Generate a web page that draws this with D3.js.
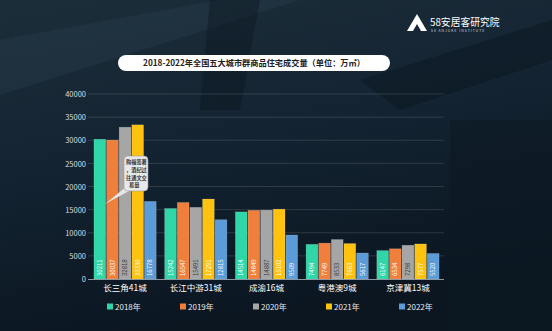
<!DOCTYPE html>
<html><head><meta charset="utf-8">
<script src="https://cdn.jsdelivr.net/npm/d3@7"></script>
<style>html,body{margin:0;padding:0;background:#0f1c27;}svg{display:block;}</style>
</head><body>
<svg id="c" width="552" height="331"></svg>
<script>
const categories = ["长三角41城","长江中游31城","成渝16城","粤港澳9城","京津冀13城"];
const years = ["2018年","2019年","2020年","2021年","2022年"];
const v2018 = [30211,15242,14514,7494,6147];
const v2019 = [30037,16547,14849,7749,6534];
const v2020 = [32818,15491,14887,8533,7298];
const v2021 = [33330,17291,15102,7663,7577];
const v2022 = [16778,12815,9509,5617,5520];
const series = [v2018,v2019,v2020,v2021,v2022];
const yTicks = [0,5000,10000,15000,20000,25000,30000,35000,40000];
const colors = ["#2fd6a7","#f07f3c","#a6a6a6","#ffc20e","#5b9bd8"];
const labelColors = ["#ffffff","#ffffff","#3a3a3a","#ffffff","#ffffff"];

const svg = d3.select("#c");
const W=552,H=331;
const font = "'Noto Sans CJK SC','Noto Sans',sans-serif";

// background
const defs = svg.append("defs");
const bg = defs.append("linearGradient").attr("id","bg").attr("x1",0).attr("y1",0).attr("x2",0.3).attr("y2",1);
bg.append("stop").attr("offset",0).attr("stop-color","#1d2e3b");
bg.append("stop").attr("offset",0.5).attr("stop-color","#132331");
bg.append("stop").attr("offset",1).attr("stop-color","#0b1621");
svg.append("rect").attr("width",W).attr("height",H).attr("fill","url(#bg)");
// subtle streaks
svg.append("polygon").attr("points","0,40 220,0 300,0 0,95").attr("fill","#2c3e4c").attr("opacity",0.35);
svg.append("polygon").attr("points","360,80 552,20 552,60 400,110").attr("fill","#07111a").attr("opacity",0.35);
svg.append("polygon").attr("points","210,0 260,0 240,110 200,110").attr("fill","#0a141d").attr("opacity",0.4);
svg.append("rect").attr("x",450).attr("y",120).attr("width",102).attr("height",211).attr("fill","#0c1822").attr("opacity",0.5);

// logo
const lg = svg.append("g");
lg.append("path").attr("d","M417,14 L427,31 L407,31 Z").attr("fill","#ffffff");
lg.append("path").attr("d","M417,24 L421,31 L413,31 Z").attr("fill","#16263a");
lg.append("text").attr("x",430).attr("y",25.5).attr("fill","#fff").attr("font-family",font)
  .attr("font-size",9.8).text("58安居客研究院");
lg.append("text").attr("x",431).attr("y",32).attr("fill","#d8dde2").attr("font-family",font)
  .attr("font-size",3.4).attr("letter-spacing",1.0).text("58 ANJUKE  INSTITUTE");

// title pill
svg.append("rect").attr("x",118).attr("y",55).attr("width",272).attr("height",16).attr("rx",8)
  .attr("fill","#ffffff");
svg.append("text").attr("x",254).attr("y",66.3).attr("text-anchor","middle").attr("font-family",font)
  .attr("font-size",8.2).attr("font-weight","bold").attr("fill","#222")
  .text("2018-2022年全国五大城市群商品住宅成交量（单位：万㎡）");

// scales
const y = d3.scaleLinear().domain([0,40000]).range([279,94]);
const x0 = d3.scaleBand().domain(categories).range([89,444]).paddingInner(0.12).paddingOuter(0.07);
const x1 = d3.scaleBand().domain(d3.range(5)).range([0,x0.bandwidth()]).paddingInner(0.07);

// grid
svg.append("g").selectAll("line").data(yTicks.filter(d=>d>0)).join("line")
  .attr("x1",88).attr("x2",444).attr("y1",d=>y(d)).attr("y2",d=>y(d))
  .attr("stroke","#ffffff").attr("stroke-opacity",0.13).attr("stroke-width",1);

// y axis labels
const yAxis = d3.axisLeft(y).tickValues(yTicks).tickSize(0).tickPadding(0).tickFormat(d3.format("d"));
const ya = svg.append("g").attr("transform","translate(86,0)").call(yAxis);
ya.select(".domain").remove();
ya.selectAll("text").attr("fill","#d6dbe0").attr("font-family",font).attr("font-size",7.5).attr("dy","0.35em");

// bars
const groups = svg.append("g").selectAll("g").data(categories).join("g")
  .attr("transform",d=>`translate(${x0(d)},0)`);
groups.each(function(cat,ci){
  const g = d3.select(this);
  series.forEach((s,si)=>{
    const v = s[ci];
    g.append("rect").attr("x",x1(si)).attr("y",y(v)).attr("width",x1.bandwidth()).attr("height",y(0)-y(v))
      .attr("fill",colors[si]).attr("stroke","#ffffff").attr("stroke-opacity",0.25).attr("stroke-width",0.6);
    g.append("text")
      .attr("transform",`translate(${x1(si)+x1.bandwidth()/2+2.1},${y(0)-3}) rotate(-90)`)
      .attr("font-family",font).attr("font-size",6).attr("fill",labelColors[si])
      .text(v);
  });
});

// x axis line + labels
svg.append("line").attr("x1",88).attr("x2",444).attr("y1",279.5).attr("y2",279.5)
  .attr("stroke","#8a96a0").attr("stroke-width",1);
const xAxis = d3.axisBottom(x0).tickSize(0).tickPadding(6);
const xa = svg.append("g").attr("transform","translate(0,279)").call(xAxis);
xa.select(".domain").remove();
xa.selectAll("text").attr("fill","#ffffff").attr("font-family",font).attr("font-size",8.5);

// legend
const lx = d3.scalePoint().domain(years).range([107,399]);
const leg = svg.append("g").selectAll("g").data(years).join("g")
  .attr("transform",d=>`translate(${lx(d)},307)`);
leg.append("rect").attr("x",0).attr("y",-3.5).attr("width",6).attr("height",6).attr("fill",(d,i)=>colors[i]);
leg.append("text").attr("x",8).attr("y",0).attr("dy","0.35em").attr("fill","#e8ecef")
  .attr("font-family",font).attr("font-size",8).text(d=>d);

// callout
const co = svg.append("g");
co.append("path").attr("d","M105,204 L127,186 L131,190 Z").attr("fill","#e6e6e6");
co.append("rect").attr("x",124).attr("y",156).attr("width",24).attr("height",35).attr("rx",4)
  .attr("fill","#e8e8e8").attr("stroke","#9a9a9a").attr("stroke-width",0.6);
["购福签著","，酒纪过","往通文交","易量"].forEach((t,i)=>{
  co.append("text").attr("x",i===3?129:126).attr("y",164+i*7.8).attr("font-family",font)
    .attr("font-size",5.2).attr("font-weight","bold").attr("fill","#333").text(t);
});
</script>
</body></html>
